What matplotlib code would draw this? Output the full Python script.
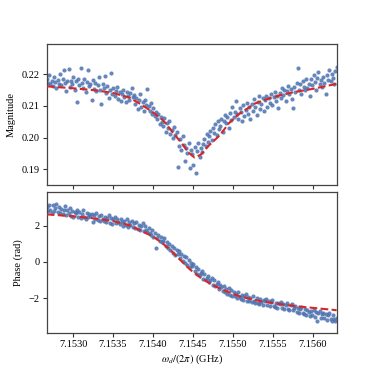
import numpy as np
import matplotlib
matplotlib.use("Agg")
import matplotlib.pyplot as plt

plt.rcParams['font.family'] = ['Liberation Serif', 'DejaVu Serif']
plt.rcParams['mathtext.fontset'] = 'stix'

# frequency sweep (GHz): start, stop, number of points
f_start = 7.15267
f_stop = 7.15630
n_points = 240

magnitude = [
    0.2185, 0.2172, 0.2198, 0.2168, 0.2180, 0.2162, 0.2191, 0.2176, 0.2157, 0.2183, 0.2170, 0.2201,
    0.2166, 0.2186, 0.2215, 0.2173, 0.2147, 0.2180, 0.2217, 0.2159, 0.2178, 0.2168, 0.2193, 0.2151,
    0.2179, 0.2112, 0.2184, 0.2165, 0.2220, 0.2172, 0.2158, 0.2186, 0.2143, 0.2177, 0.2213, 0.2163,
    0.2169, 0.2119, 0.2182, 0.2155, 0.2174, 0.2148, 0.2165, 0.2192, 0.2151, 0.2105, 0.2170, 0.2158,
    0.2196, 0.2141, 0.2164, 0.2126, 0.2152, 0.2203, 0.2138, 0.2157, 0.2131, 0.2147, 0.2160, 0.2122,
    0.2145, 0.2116, 0.2139, 0.2151, 0.2128, 0.2112, 0.2143, 0.2133, 0.2120, 0.2141, 0.2158, 0.2127,
    0.2134, 0.2106, 0.2125, 0.2091, 0.2118, 0.2139, 0.2098, 0.2112, 0.2083, 0.2120, 0.2103, 0.2155,
    0.2099, 0.2085, 0.2110, 0.2076, 0.2092, 0.2069, 0.2081, 0.2058, 0.2075, 0.2042, 0.2066, 0.2050,
    0.2038, 0.2061, 0.2019, 0.2047, 0.2030, 0.2052, 0.2012, 0.2025, 0.1998, 0.2035, 0.2008, 0.2017,
    0.1908, 0.1972, 0.1995, 0.1961, 0.2006, 0.1978, 0.1926, 0.1968, 0.1951, 0.1984, 0.1905, 0.1962,
    0.1948, 0.1912, 0.1970, 0.1888, 0.1957, 0.1982, 0.1940, 0.1966, 0.1953, 0.1979, 0.1996, 0.1972,
    0.2012, 0.1985, 0.2004, 0.2021, 0.1993, 0.2030, 0.2015, 0.2042, 0.2008, 0.2051, 0.2026, 0.2038,
    0.2060, 0.2019, 0.2053, 0.2071, 0.2045, 0.2066, 0.2030, 0.2078, 0.2057, 0.2098, 0.2064, 0.2082,
    0.2117, 0.2074, 0.2059, 0.2092, 0.2081, 0.2053, 0.2102, 0.2069, 0.2088, 0.2110, 0.2076, 0.2097,
    0.2058, 0.2106, 0.2085, 0.2121, 0.2098, 0.2072, 0.2114, 0.2130, 0.2091, 0.2107, 0.2125, 0.2083,
    0.2119, 0.2131, 0.2097, 0.2124, 0.2110, 0.2139, 0.2102, 0.2128, 0.2145, 0.2116, 0.2133, 0.2092,
    0.2141, 0.2126, 0.2158, 0.2134, 0.2150, 0.2115, 0.2147, 0.2163, 0.2138, 0.2155, 0.2122, 0.2093,
    0.2159, 0.2143, 0.2172, 0.2221, 0.2152, 0.2168, 0.2138, 0.2179, 0.2161, 0.2149, 0.2186, 0.2157,
    0.2170, 0.2131, 0.2184, 0.2165, 0.2197, 0.2176, 0.2152, 0.2189, 0.2207, 0.2168, 0.2181, 0.2160,
    0.2193, 0.2174, 0.2137, 0.2198, 0.2183, 0.2215, 0.2178, 0.2201, 0.2190, 0.2170, 0.2210, 0.2224,
]

phase = [
    3.02, 2.78, 3.12, 2.88, 2.70, 3.15, 2.83, 2.97, 3.19, 2.76, 3.05, 2.72,
    2.94, 2.62, 2.86, 3.08, 2.58, 2.85, 2.68, 2.99, 2.55, 2.80, 2.50, 2.74,
    2.70, 2.85, 2.45, 2.75, 2.40, 2.66, 2.88, 2.50, 2.36, 2.72, 2.47, 2.64,
    2.52, 2.63, 2.22, 2.57, 2.36, 2.70, 2.30, 2.54, 2.26, 2.60, 2.38, 2.24,
    2.48, 2.20, 2.42, 2.58, 2.16, 2.40, 2.10, 2.35, 2.47, 2.14, 2.39, 2.21,
    2.08, 2.34, 2.18, 1.98, 2.28, 2.05, 2.36, 1.95, 2.22, 2.01, 2.26, 1.92,
    2.12, 1.86, 2.20, 1.80, 2.05, 1.75, 2.00, 2.17, 1.70, 1.97, 1.78, 1.66,
    1.86, 1.60, 1.50, 1.78, 1.40, 1.60, 0.75, 1.30, 1.50, 1.18, 1.40, 1.10,
    1.16, 1.30, 0.90, 1.12, 0.78, 1.01, 0.64, 0.90, 0.52, 0.78, 0.40, 0.64,
    0.46, 0.58, 0.20, 0.42, 0.06, 0.30, -0.04, 0.25, -0.16, 0.08, -0.30, -0.04,
    -0.22, -0.10, -0.50, -0.28, -0.64, -0.38, -0.72, -0.60, -0.50, -0.92, -0.68, -0.98,
    -0.88, -0.78, -1.12, -1.02, -0.90, -1.28, -1.00, -1.34, -1.22, -1.10, -1.48, -1.28,
    -1.38, -1.60, -1.30, -1.66, -1.48, -1.76, -1.44, -1.80, -1.56, -1.86, -1.64, -1.90,
    -1.74, -1.98, -1.68, -1.92, -2.05, -1.82, -2.10, -1.88, -1.76, -2.14, -1.94, -2.18,
    -1.98, -2.22, -1.90, -2.16, -2.28, -1.96, -2.24, -2.32, -2.02, -2.20, -2.36, -2.12,
    -2.18, -2.06, -2.38, -2.14, -2.44, -2.22, -2.08, -2.42, -2.50, -2.24, -2.56, -2.28,
    -2.34, -2.20, -2.53, -2.30, -2.62, -2.38, -2.24, -2.58, -2.66, -2.40, -2.30, -2.64,
    -2.56, -2.44, -2.76, -2.52, -2.84, -2.60, -2.48, -2.80, -2.88, -2.57, -2.92, -2.65,
    -2.74, -2.98, -2.68, -2.94, -2.64, -3.03, -2.78, -3.25, -2.84, -2.72, -3.08, -2.87,
    -2.82, -3.11, -2.89, -3.18, -2.92, -2.79, -3.14, -3.24, -2.94, -3.16, -3.28, -3.09,
]

# fitted curves
fit_mag_f = [7.15267, 7.1530, 7.1533, 7.1535, 7.1537, 7.15385, 7.1540, 7.15413, 7.15425,
             7.15435, 7.15445, 7.15452, 7.15460, 7.15470, 7.15484, 7.15495, 7.15508,
             7.15528, 7.15550, 7.15575, 7.1560, 7.15630]
fit_mag = [0.2162, 0.2156, 0.2149, 0.2141, 0.2127, 0.2105, 0.2080, 0.2054, 0.2016,
           0.1985, 0.1952, 0.1937, 0.1946, 0.1975, 0.2008, 0.2045, 0.2075,
           0.2108, 0.2128, 0.2143, 0.2154, 0.2170]

fit_ph_f = [7.15267, 7.1530, 7.1533, 7.1535, 7.1537, 7.15385, 7.1540, 7.15410, 7.15422,
            7.15434, 7.15446, 7.15459, 7.15472, 7.15484, 7.15497, 7.15509, 7.1553,
            7.1555, 7.15575, 7.1560, 7.1563]
fit_ph = [2.62, 2.52, 2.38, 2.25, 2.03, 1.72, 1.40, 1.10, 0.65,
          0.12, -0.40, -0.85, -1.20, -1.47, -1.70, -1.90, -2.12,
          -2.27, -2.42, -2.53, -2.66]

freq = np.linspace(f_start, f_stop, n_points)

fig = plt.figure(figsize=(3.74, 3.74), dpi=100)
ax1 = fig.add_axes([0.125, 0.5053, 0.775, 0.3771])
ax2 = fig.add_axes([0.125, 0.1104, 0.775, 0.3770], sharex=ax1)

dot_color = '#4C72B0'
fit_color = '#d62728'

ax1.scatter(freq, magnitude, s=9, color=dot_color, alpha=0.85, linewidths=0, zorder=2)
ax1.plot(fit_mag_f, fit_mag, '--', color=fit_color, lw=1.5, zorder=3)
ax2.scatter(freq, phase, s=9, color=dot_color, alpha=0.85, linewidths=0, zorder=2)
ax2.plot(fit_ph_f, fit_ph, '--', color=fit_color, lw=1.5, zorder=3)

ax1.set_xlim(f_start, f_stop)
ax1.set_ylim(0.185, 0.2296)
ax2.set_ylim(-3.9, 3.87)

ax1.set_yticks([0.19, 0.20, 0.21, 0.22])
ax1.set_yticklabels(['0.19', '0.20', '0.21', '0.22'])
ax2.set_yticks([-2, 0, 2])
ax2.set_xticks([7.1530, 7.1535, 7.1540, 7.1545, 7.1550, 7.1555, 7.1560])
ax2.set_xticklabels(['7.1530', '7.1535', '7.1540', '7.1545', '7.1550', '7.1555', '7.1560'])
plt.setp(ax1.get_xticklabels(), visible=False)

ax1.set_ylabel('Magnitude', fontsize=7.5, labelpad=4)
ax2.set_ylabel('Phase (rad)', fontsize=7.5, labelpad=4)
ax2.set_xlabel(r'$\omega_d/(2\pi)$ (GHz)', fontsize=7.5, labelpad=3)

for ax in (ax1, ax2):
    ax.tick_params(labelsize=7.5, length=3, width=0.8, colors='#333333', pad=2)
    ax.tick_params(labelcolor='black')
    for sp in ax.spines.values():
        sp.set_color('#444444')
        sp.set_linewidth(0.9)

fig.savefig('out.png', dpi=100)
